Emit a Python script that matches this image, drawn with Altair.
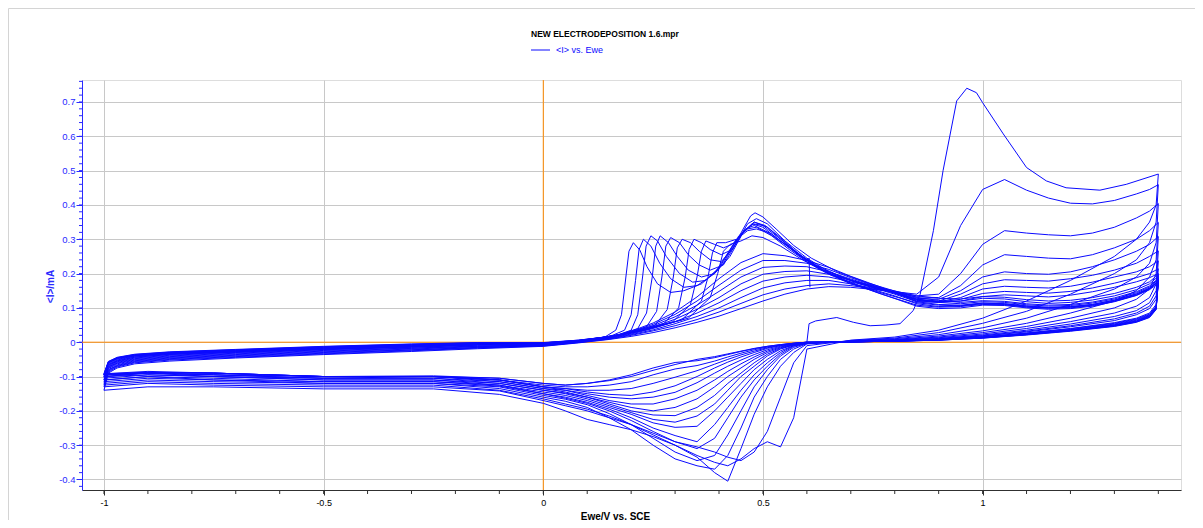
import altair as alt
import pandas as pd

# ---------------- data ----------------
CHART_TITLE = "NEW ELECTRODEPOSITION 1.6.mpr"
SERIES_NAME = "<I> vs. Ewe"
X_TITLE = "Ewe/V vs. SCE"
Y_TITLE = "<I>/mA"

X_TICKS = [-1, -0.5, 0, 0.5, 1]
Y_TICKS = [-0.4, -0.3, -0.2, -0.1, 0, 0.1, 0.2, 0.3, 0.4, 0.5, 0.6, 0.7]

# first (partial) anodic sweep starting at 0.6 V
FWD0_E = [0.6, 0.605, 0.62, 0.668, 0.706, 0.744, 0.78, 0.812, 0.842, 0.858, 0.888, 0.91, 0.941, 0.964, 0.986, 1.0, 1.047, 1.10, 1.145, 1.19, 1.267, 1.327, 1.4]
FWD0_I = [0.0, 0.054, 0.062, 0.072, 0.058, 0.048, 0.05, 0.054, 0.092, 0.14, 0.325, 0.5, 0.703, 0.74, 0.727, 0.698, 0.607, 0.509, 0.47, 0.45, 0.443, 0.46, 0.49]

# reverse sweeps, high-potential part (1.4 -> 0.7)
RH_E = [1.395, 1.38, 1.35, 1.3, 1.2, 1.1, 1.0, 0.9, 0.8, 0.7]
REV_HIGH = [
    [0.40, 0.35, 0.30, 0.25, 0.18, 0.12, 0.07, 0.035, 0.015, 0.006],
    [0.35, 0.29, 0.24, 0.20, 0.14, 0.09, 0.055, 0.028, 0.012, 0.005],
    [0.29, 0.23, 0.19, 0.155, 0.11, 0.07, 0.042, 0.022, 0.01, 0.004],
    [0.24, 0.19, 0.15, 0.12, 0.085, 0.055, 0.033, 0.018, 0.008, 0.003],
    [0.20, 0.155, 0.125, 0.10, 0.07, 0.046, 0.028, 0.015, 0.007, 0.003],
    [0.17, 0.13, 0.105, 0.085, 0.06, 0.04, 0.024, 0.013, 0.006, 0.002],
    [0.15, 0.115, 0.092, 0.075, 0.053, 0.035, 0.021, 0.011, 0.005, 0.002],
    [0.135, 0.105, 0.085, 0.068, 0.048, 0.032, 0.019, 0.01, 0.005, 0.002],
    [0.125, 0.098, 0.08, 0.063, 0.045, 0.03, 0.018, 0.009, 0.004, 0.001],
    [0.11, 0.085, 0.07, 0.057, 0.04, 0.027, 0.016, 0.008, 0.004, 0.001],
    [0.105, 0.082, 0.068, 0.055, 0.039, 0.026, 0.015, 0.008, 0.004, 0.001],
    [0.104, 0.08, 0.066, 0.053, 0.037, 0.025, 0.015, 0.007, 0.003, 0.001],
    [0.102, 0.078, 0.064, 0.051, 0.036, 0.024, 0.014, 0.007, 0.003, 0.001],
    [0.10, 0.077, 0.062, 0.05, 0.035, 0.023, 0.014, 0.007, 0.003, 0.001],
    [0.099, 0.076, 0.061, 0.049, 0.034, 0.023, 0.013, 0.007, 0.003, 0.001],
    [0.098, 0.075, 0.06, 0.048, 0.034, 0.022, 0.013, 0.006, 0.003, 0.001],
    [0.096, 0.073, 0.059, 0.047, 0.033, 0.022, 0.012, 0.006, 0.003, 0.001],
    [0.095, 0.072, 0.058, 0.046, 0.032, 0.021, 0.012, 0.006, 0.003, 0.001],
]

# reverse sweeps, cathodic part (0.6 -> -1.0)
RC_E = [0.6, 0.57, 0.54, 0.51, 0.48, 0.45, 0.42, 0.39, 0.35, 0.3, 0.25, 0.2, 0.15, 0.1, 0.05, 0.0, -0.1, -0.25, -0.5, -0.75, -0.9, -1.0]
REV_CATH = [
    [-0.02, -0.22, -0.305, -0.29, -0.31, -0.34, -0.36, -0.35, -0.33, -0.30, -0.275, -0.255, -0.24, -0.225, -0.2, -0.178, -0.152, -0.136, -0.136, -0.13, -0.13, -0.14],
    [-0.01, -0.06, -0.16, -0.26, -0.32, -0.345, -0.335, -0.32, -0.305, -0.29, -0.265, -0.24, -0.22, -0.2, -0.185, -0.17, -0.142, -0.13, -0.13, -0.125, -0.12, -0.13],
    [-0.005, -0.03, -0.07, -0.13, -0.21, -0.31, -0.405, -0.38, -0.335, -0.30, -0.27, -0.24, -0.215, -0.195, -0.18, -0.165, -0.14, -0.125, -0.125, -0.12, -0.115, -0.125],
    [-0.004, -0.02, -0.05, -0.10, -0.16, -0.25, -0.33, -0.37, -0.36, -0.34, -0.30, -0.255, -0.22, -0.19, -0.172, -0.16, -0.135, -0.12, -0.12, -0.115, -0.11, -0.12],
    [-0.003, -0.015, -0.04, -0.08, -0.13, -0.20, -0.27, -0.33, -0.345, -0.32, -0.28, -0.24, -0.208, -0.182, -0.166, -0.155, -0.13, -0.12, -0.12, -0.11, -0.105, -0.115],
    [-0.003, -0.012, -0.035, -0.07, -0.11, -0.16, -0.22, -0.28, -0.31, -0.29, -0.26, -0.228, -0.2, -0.178, -0.163, -0.15, -0.128, -0.115, -0.115, -0.11, -0.10, -0.11],
    [-0.002, -0.01, -0.03, -0.06, -0.095, -0.14, -0.19, -0.24, -0.29, -0.272, -0.25, -0.22, -0.195, -0.175, -0.16, -0.15, -0.125, -0.115, -0.115, -0.105, -0.10, -0.11],
    [-0.002, -0.01, -0.025, -0.05, -0.08, -0.12, -0.16, -0.20, -0.245, -0.248, -0.235, -0.21, -0.19, -0.17, -0.155, -0.145, -0.125, -0.11, -0.11, -0.10, -0.095, -0.105],
    [-0.002, -0.008, -0.02, -0.04, -0.07, -0.10, -0.14, -0.18, -0.215, -0.233, -0.225, -0.205, -0.185, -0.165, -0.15, -0.14, -0.12, -0.11, -0.11, -0.10, -0.095, -0.10],
    [-0.002, -0.008, -0.018, -0.035, -0.06, -0.09, -0.12, -0.155, -0.19, -0.214, -0.212, -0.20, -0.18, -0.16, -0.148, -0.14, -0.12, -0.105, -0.105, -0.10, -0.09, -0.10],
    [-0.001, -0.007, -0.016, -0.03, -0.05, -0.075, -0.10, -0.13, -0.165, -0.19, -0.20, -0.19, -0.175, -0.16, -0.145, -0.135, -0.115, -0.105, -0.105, -0.095, -0.09, -0.10],
    [-0.001, -0.006, -0.014, -0.026, -0.043, -0.063, -0.085, -0.11, -0.14, -0.165, -0.18, -0.18, -0.17, -0.155, -0.14, -0.135, -0.115, -0.10, -0.105, -0.095, -0.09, -0.095],
    [-0.001, -0.005, -0.012, -0.022, -0.036, -0.052, -0.07, -0.09, -0.118, -0.146, -0.16, -0.165, -0.16, -0.15, -0.14, -0.13, -0.11, -0.10, -0.10, -0.095, -0.09, -0.095],
    [0.0, -0.004, -0.01, -0.018, -0.03, -0.043, -0.058, -0.075, -0.10, -0.127, -0.145, -0.155, -0.152, -0.145, -0.135, -0.13, -0.11, -0.10, -0.10, -0.09, -0.088, -0.095],
    [0.0, -0.004, -0.009, -0.016, -0.026, -0.037, -0.05, -0.064, -0.083, -0.102, -0.12, -0.135, -0.14, -0.14, -0.135, -0.13, -0.11, -0.10, -0.10, -0.09, -0.088, -0.095],
    [0.0, -0.003, -0.008, -0.014, -0.022, -0.032, -0.043, -0.055, -0.068, -0.078, -0.095, -0.115, -0.125, -0.13, -0.13, -0.125, -0.11, -0.10, -0.10, -0.09, -0.088, -0.095],
    [0.0, -0.003, -0.007, -0.012, -0.019, -0.027, -0.036, -0.045, -0.054, -0.059, -0.075, -0.095, -0.11, -0.12, -0.125, -0.12, -0.105, -0.10, -0.10, -0.09, -0.088, -0.092],
    [0.0, -0.003, -0.007, -0.012, -0.018, -0.026, -0.034, -0.042, -0.05, -0.065, -0.082, -0.10, -0.112, -0.12, -0.125, -0.12, -0.105, -0.098, -0.10, -0.09, -0.085, -0.092],
]

# forward sweeps, negative-potential part (-0.99 -> -0.15)
FB_E = [-0.99, -0.97, -0.93, -0.85, -0.7, -0.5, -0.3, -0.15]
FWD_BASE = [
    [-0.09, -0.075, -0.063, -0.055, -0.046, -0.036, -0.027, -0.019],
    [-0.087, -0.072, -0.06, -0.052, -0.044, -0.034, -0.025, -0.017],
    [-0.084, -0.07, -0.058, -0.05, -0.042, -0.032, -0.023, -0.016],
    [-0.082, -0.068, -0.056, -0.048, -0.04, -0.03, -0.022, -0.015],
    [-0.08, -0.066, -0.054, -0.046, -0.038, -0.028, -0.02, -0.013],
    [-0.077, -0.063, -0.052, -0.044, -0.036, -0.026, -0.018, -0.012],
    [-0.075, -0.061, -0.05, -0.042, -0.034, -0.024, -0.017, -0.011],
    [-0.073, -0.059, -0.048, -0.04, -0.032, -0.022, -0.015, -0.009],
    [-0.071, -0.057, -0.046, -0.038, -0.03, -0.021, -0.014, -0.008],
    [-0.069, -0.055, -0.044, -0.036, -0.029, -0.02, -0.013, -0.007],
    [-0.067, -0.054, -0.043, -0.035, -0.028, -0.019, -0.012, -0.006],
    [-0.065, -0.052, -0.041, -0.034, -0.027, -0.018, -0.011, -0.005],
    [-0.063, -0.05, -0.04, -0.033, -0.026, -0.017, -0.01, -0.004],
    [-0.061, -0.048, -0.039, -0.032, -0.025, -0.016, -0.009, -0.004],
    [-0.059, -0.047, -0.038, -0.031, -0.024, -0.015, -0.008, -0.003],
    [-0.058, -0.046, -0.037, -0.03, -0.023, -0.014, -0.007, -0.002],
    [-0.057, -0.045, -0.036, -0.029, -0.022, -0.013, -0.006, -0.002],
    [-0.056, -0.044, -0.035, -0.028, -0.021, -0.012, -0.005, -0.001],
]

# early forward sweeps: broad anodic wave (0 -> 0.85)
BROAD_E = [0.0, 0.08, 0.15, 0.2, 0.25, 0.3, 0.35, 0.4, 0.45, 0.5, 0.55, 0.6, 0.65, 0.7, 0.78, 0.85]
FWD_BROAD = [
    [-0.012, -0.002, 0.008, 0.017, 0.028, 0.042, 0.058, 0.076, 0.098, 0.12, 0.14, 0.155, 0.162, 0.16, 0.15, 0.14],
    [-0.011, -0.001, 0.009, 0.02, 0.033, 0.048, 0.066, 0.088, 0.113, 0.138, 0.155, 0.165, 0.17, 0.165, 0.15, 0.135],
    [-0.01, 0.0, 0.01, 0.022, 0.036, 0.054, 0.075, 0.10, 0.13, 0.158, 0.173, 0.18, 0.18, 0.17, 0.15, 0.132],
    [-0.01, 0.0, 0.011, 0.024, 0.04, 0.06, 0.085, 0.115, 0.15, 0.178, 0.19, 0.195, 0.19, 0.176, 0.152, 0.128],
    [-0.009, 0.001, 0.012, 0.026, 0.044, 0.067, 0.096, 0.13, 0.17, 0.198, 0.206, 0.208, 0.198, 0.18, 0.153, 0.125],
    [-0.008, 0.002, 0.013, 0.028, 0.048, 0.074, 0.108, 0.148, 0.19, 0.218, 0.222, 0.22, 0.205, 0.184, 0.152, 0.122],
    [-0.008, 0.002, 0.014, 0.03, 0.052, 0.081, 0.12, 0.166, 0.21, 0.238, 0.238, 0.23, 0.212, 0.188, 0.153, 0.12],
    [-0.007, 0.003, 0.015, 0.032, 0.056, 0.088, 0.132, 0.185, 0.232, 0.258, 0.252, 0.238, 0.218, 0.192, 0.155, 0.118],
]

# later forward sweeps: sharp anodic wave shifting to lower potential
SHARP_E = [
    [0.0, 0.08, 0.23, 0.33, 0.38, 0.397, 0.41, 0.425, 0.45, 0.475, 0.5, 0.54, 0.59, 0.64, 0.7, 0.78, 0.85],
    [0.0, 0.08, 0.22, 0.315, 0.36, 0.375, 0.385, 0.395, 0.415, 0.44, 0.465, 0.485, 0.51, 0.55, 0.6, 0.65, 0.72, 0.8, 0.85],
    [0.0, 0.08, 0.21, 0.295, 0.335, 0.35, 0.36, 0.37, 0.39, 0.41, 0.43, 0.455, 0.478, 0.5, 0.54, 0.58, 0.63, 0.7, 0.78, 0.85],
    [0.0, 0.08, 0.2, 0.275, 0.308, 0.323, 0.332, 0.343, 0.36, 0.38, 0.405, 0.43, 0.455, 0.48, 0.505, 0.54, 0.58, 0.62, 0.68, 0.76, 0.85],
    [0.0, 0.08, 0.19, 0.255, 0.282, 0.296, 0.305, 0.316, 0.335, 0.355, 0.38, 0.405, 0.43, 0.455, 0.472, 0.482, 0.5, 0.53, 0.57, 0.61, 0.67, 0.74, 0.85],
    [0.0, 0.08, 0.18, 0.235, 0.258, 0.27, 0.279, 0.29, 0.31, 0.33, 0.355, 0.38, 0.41, 0.44, 0.465, 0.485, 0.51, 0.55, 0.6, 0.65, 0.72, 0.8, 0.85],
    [0.0, 0.08, 0.17, 0.215, 0.235, 0.248, 0.256, 0.266, 0.285, 0.305, 0.33, 0.36, 0.39, 0.425, 0.455, 0.48, 0.51, 0.55, 0.59, 0.64, 0.7, 0.77, 0.85],
    [0.0, 0.08, 0.16, 0.2, 0.215, 0.226, 0.234, 0.245, 0.26, 0.28, 0.31, 0.34, 0.37, 0.41, 0.445, 0.475, 0.5, 0.54, 0.58, 0.62, 0.68, 0.75, 0.85],
    [0.0, 0.08, 0.15, 0.185, 0.2, 0.21, 0.218, 0.228, 0.245, 0.265, 0.29, 0.32, 0.35, 0.39, 0.43, 0.46, 0.48, 0.52, 0.56, 0.6, 0.65, 0.7, 0.78, 0.85],
    [0.0, 0.08, 0.14, 0.165, 0.178, 0.188, 0.195, 0.205, 0.22, 0.236, 0.26, 0.29, 0.32, 0.36, 0.4, 0.44, 0.465, 0.485, 0.52, 0.56, 0.6, 0.605, 0.607],
]
SHARP_I = [
    [-0.006, 0.001, 0.035, 0.07, 0.13, 0.2, 0.265, 0.285, 0.295, 0.31, 0.305, 0.28, 0.24, 0.205, 0.18, 0.155, 0.135],
    [-0.005, 0.002, 0.032, 0.065, 0.12, 0.19, 0.26, 0.29, 0.29, 0.3, 0.325, 0.33, 0.32, 0.285, 0.24, 0.2, 0.165, 0.135, 0.112],
    [-0.005, 0.002, 0.03, 0.06, 0.11, 0.19, 0.265, 0.295, 0.285, 0.275, 0.285, 0.32, 0.345, 0.34, 0.3, 0.255, 0.215, 0.18, 0.15, 0.124],
    [-0.004, 0.003, 0.027, 0.055, 0.1, 0.19, 0.27, 0.3, 0.29, 0.27, 0.255, 0.27, 0.32, 0.35, 0.34, 0.305, 0.258, 0.22, 0.182, 0.145, 0.105],
    [-0.003, 0.004, 0.025, 0.05, 0.095, 0.19, 0.275, 0.3, 0.29, 0.265, 0.24, 0.235, 0.27, 0.33, 0.368, 0.377, 0.365, 0.33, 0.282, 0.245, 0.205, 0.172, 0.13],
    [-0.003, 0.004, 0.022, 0.045, 0.09, 0.19, 0.28, 0.305, 0.29, 0.255, 0.225, 0.21, 0.225, 0.29, 0.345, 0.36, 0.345, 0.295, 0.245, 0.205, 0.17, 0.14, 0.118],
    [-0.002, 0.005, 0.02, 0.04, 0.085, 0.19, 0.28, 0.31, 0.29, 0.25, 0.21, 0.19, 0.2, 0.25, 0.32, 0.35, 0.335, 0.29, 0.25, 0.208, 0.172, 0.14, 0.108],
    [-0.002, 0.005, 0.017, 0.035, 0.08, 0.19, 0.28, 0.31, 0.295, 0.25, 0.2, 0.175, 0.18, 0.23, 0.31, 0.345, 0.335, 0.295, 0.258, 0.225, 0.19, 0.16, 0.126],
    [-0.002, 0.006, 0.016, 0.035, 0.08, 0.18, 0.27, 0.3, 0.28, 0.23, 0.185, 0.16, 0.165, 0.2, 0.28, 0.33, 0.34, 0.315, 0.275, 0.235, 0.198, 0.17, 0.14, 0.115],
    [-0.001, 0.006, 0.015, 0.035, 0.08, 0.19, 0.265, 0.29, 0.268, 0.22, 0.17, 0.145, 0.15, 0.17, 0.215, 0.3, 0.33, 0.335, 0.31, 0.27, 0.235, 0.245, 0.16],
]

# forward sweeps, high-potential part (0.9 -> 1.4)
FH_E = [0.9, 0.95, 1.0, 1.05, 1.1, 1.15, 1.2, 1.25, 1.3, 1.35, 1.38, 1.4]
FWD_HIGH = [
    [0.19, 0.34, 0.445, 0.474, 0.443, 0.42, 0.405, 0.403, 0.413, 0.432, 0.445, 0.459],
    [0.14, 0.2, 0.285, 0.325, 0.318, 0.313, 0.31, 0.318, 0.335, 0.362, 0.382, 0.404],
    [0.13, 0.165, 0.225, 0.255, 0.25, 0.245, 0.243, 0.255, 0.275, 0.3, 0.325, 0.349],
    [0.125, 0.15, 0.19, 0.205, 0.2, 0.198, 0.205, 0.22, 0.24, 0.265, 0.285, 0.308],
    [0.12, 0.14, 0.17, 0.182, 0.18, 0.178, 0.185, 0.195, 0.21, 0.23, 0.25, 0.266],
    [0.118, 0.13, 0.155, 0.163, 0.16, 0.158, 0.163, 0.175, 0.19, 0.205, 0.22, 0.237],
    [0.117, 0.125, 0.142, 0.148, 0.145, 0.143, 0.148, 0.158, 0.172, 0.188, 0.2, 0.214],
    [0.116, 0.12, 0.133, 0.138, 0.135, 0.132, 0.137, 0.147, 0.16, 0.176, 0.188, 0.2],
    [0.128, 0.126, 0.133, 0.131, 0.124, 0.12, 0.122, 0.13, 0.142, 0.16, 0.176, 0.198],
    [0.104, 0.106, 0.114, 0.112, 0.106, 0.101, 0.104, 0.11, 0.123, 0.141, 0.158, 0.178],
    [0.118, 0.12, 0.128, 0.126, 0.118, 0.113, 0.116, 0.123, 0.135, 0.153, 0.17, 0.192],
    [0.098, 0.1, 0.108, 0.107, 0.1, 0.096, 0.098, 0.105, 0.118, 0.136, 0.153, 0.172],
    [0.122, 0.116, 0.121, 0.119, 0.112, 0.108, 0.11, 0.117, 0.129, 0.147, 0.164, 0.186],
    [0.11, 0.108, 0.114, 0.112, 0.105, 0.101, 0.103, 0.11, 0.122, 0.14, 0.157, 0.18],
    [0.102, 0.104, 0.11, 0.109, 0.102, 0.099, 0.1, 0.107, 0.119, 0.137, 0.155, 0.176],
    [0.116, 0.112, 0.118, 0.116, 0.109, 0.105, 0.107, 0.114, 0.126, 0.144, 0.161, 0.184],
    [0.108, 0.106, 0.112, 0.11, 0.103, 0.1, 0.102, 0.108, 0.12, 0.138, 0.156, 0.178],
]

# ---------------- assemble the single continuous trace ----------------
rows = []


def add(es, vals):
    for e, v in zip(es, vals):
        rows.append((len(rows), e, v))


add(FWD0_E, FWD0_I)
for k in range(len(REV_HIGH)):
    add(RH_E, REV_HIGH[k])
    add(RC_E, REV_CATH[k])
    f = k + 1
    add(FB_E, FWD_BASE[k])
    if f <= len(FWD_BROAD):
        add(BROAD_E, FWD_BROAD[f - 1])
    else:
        add(SHARP_E[f - 1 - len(FWD_BROAD)], SHARP_I[f - 1 - len(FWD_BROAD)])
    if f <= len(FWD_HIGH):
        add(FH_E, FWD_HIGH[f - 1])

df = pd.DataFrame(rows, columns=["idx", "E", "I"])

# ---------------- styling ----------------
BLUE = "#0a0aff"
AXBLUE = "#2a2aff"
ORANGE = "#ff8a00"
GRID = "#c8c8c8"
FONT = "Liberation Sans"
W, H = 1099, 410

xscale = alt.Scale(domain=[-1.05, 1.4516], nice=False, zero=False)
yscale = alt.Scale(domain=[-0.4306, 0.764], nice=False, zero=False)

x_axis = alt.Axis(
    values=X_TICKS, title=X_TITLE, grid=True, gridColor=GRID, gridWidth=1,
    labelExpr="datum.value == 0 ? '0' : (datum.value < 0 ? '-' : '') + format(abs(datum.value), '~g')",
    labelFont=FONT, labelFontSize=9, labelColor="black", labelPadding=3,
    tickSize=5, tickColor="#303030", domainColor="#303030",
    titleFont=FONT, titleFontSize=10, titleFontWeight="bold", titleColor="black",
    titleX=533, titleY=21, titleBaseline="top", titleAlign="center",
)
y_axis = alt.Axis(
    values=Y_TICKS, title=Y_TITLE, grid=True, gridColor=GRID, gridWidth=1,
    labelExpr="datum.value == 0 ? '0' : (datum.value < 0 ? '-' : '') + format(abs(datum.value), '.1f')",
    labelFont=FONT, labelFontSize=9.5, labelColor=AXBLUE, labelPadding=1,
    tickSize=6, tickColor=AXBLUE, domainColor=AXBLUE,
    titleFont=FONT, titleFontSize=10, titleFontWeight="bold", titleColor=AXBLUE,
    titleX=-32, titleY=206, titleAngle=270, titleAlign="center", titleBaseline="middle",
)

X = alt.X("E:Q", scale=xscale, axis=x_axis, title=X_TITLE)
Y = alt.Y("I:Q", scale=yscale, axis=y_axis, title=Y_TITLE)

curve = alt.Chart(df).mark_line(color=BLUE, strokeWidth=1, strokeJoin="round").encode(
    x=X, y=Y, order="idx:Q",
)

zero_x = alt.Chart(pd.DataFrame({"E": [0.0]})).mark_rule(color=ORANGE, strokeWidth=1).encode(x=X)
zero_y = alt.Chart(pd.DataFrame({"I": [0.0]})).mark_rule(color=ORANGE, strokeWidth=1).encode(y=Y)

y_minor_vals = [round(-0.42 + 0.02 * i, 2) for i in range(60) if -0.43 <= -0.42 + 0.02 * i <= 0.764]
x_minor_vals = [round(-1.0 + 0.1 * i, 1) for i in range(25)]

y_minor = alt.Chart(pd.DataFrame({"I": y_minor_vals})).mark_rule(color=AXBLUE, strokeWidth=1).encode(
    y=Y, x=alt.value(-3), x2=alt.value(0)
)
x_minor = alt.Chart(pd.DataFrame({"E": x_minor_vals})).mark_rule(color="#303030", strokeWidth=1).encode(
    x=X, y=alt.value(H), y2=alt.value(H + 4)
)

title_txt = alt.Chart(pd.DataFrame({"t": [CHART_TITLE]})).mark_text(
    align="left", baseline="middle", font=FONT, fontSize=8.5, fontWeight="bold", color="black"
).encode(text="t:N", x=alt.value(449), y=alt.value(-46))

legend_line = alt.Chart(pd.DataFrame({"t": [SERIES_NAME]})).mark_rule(color=BLUE, strokeWidth=1).encode(
    x=alt.value(449), x2=alt.value(468), y=alt.value(-30)
)
legend_txt = alt.Chart(pd.DataFrame({"t": [SERIES_NAME]})).mark_text(
    align="left", baseline="middle", font=FONT, fontSize=9, color=BLUE
).encode(text="t:N", x=alt.value(474), y=alt.value(-30))

frame_top = alt.Chart(pd.DataFrame({"t": [0]})).mark_rule(color="#d4d4d4", strokeWidth=1).encode(
    x=alt.value(-73.5), x2=alt.value(W + 14), y=alt.value(-71.5)
)
frame_left = alt.Chart(pd.DataFrame({"t": [0]})).mark_rule(color="#d4d4d4", strokeWidth=1).encode(
    x=alt.value(-73.5), y=alt.value(-71.5), y2=alt.value(H + 30)
)

chart = alt.layer(
    zero_x, zero_y, curve, y_minor, x_minor, title_txt, legend_line, legend_txt, frame_top, frame_left
).properties(
    width=W, height=H,
    padding={"left": 74, "top": 72, "right": 14, "bottom": 30},
    autosize=alt.AutoSizeParams(type="none"),
).configure_view(stroke="#d0d0d0", strokeWidth=1).configure(background="white")

chart.save("out.html", embed_options={"renderer": "svg", "actions": False})
